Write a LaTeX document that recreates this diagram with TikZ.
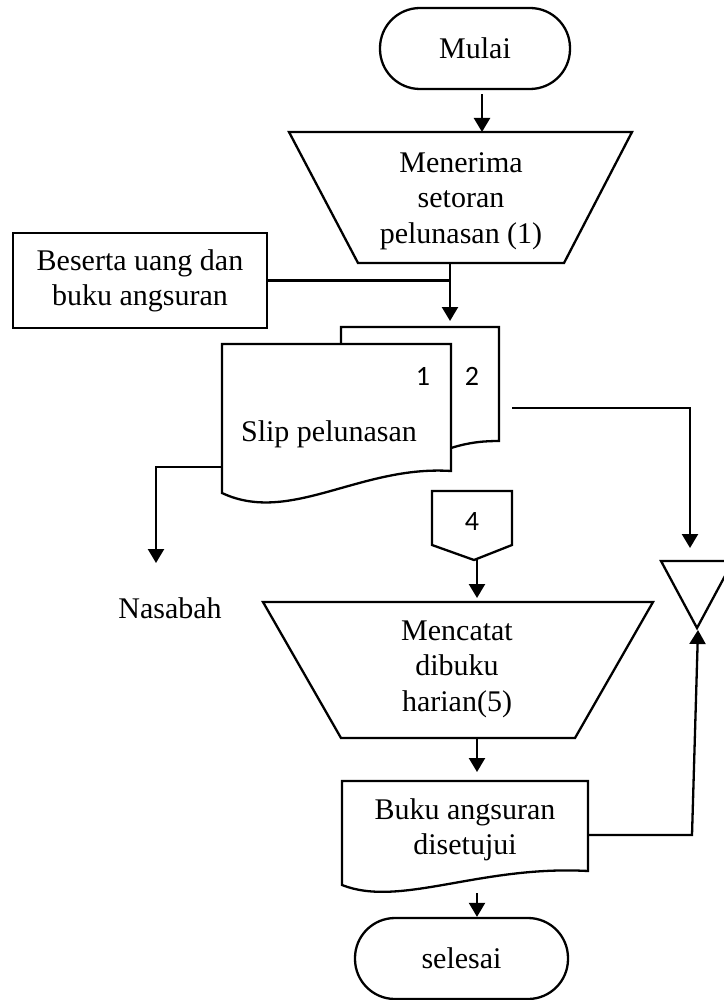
\documentclass[tikz,border=0pt]{standalone}
\usepackage{fontspec}
\setmainfont{Liberation Serif}
\newfontfamily\digitfont{Carlito}
\usetikzlibrary{arrows.meta}

\tikzset{
  ln/.style={line width=1.15pt, line join=miter},
  arr/.style={ln, -{Triangle[width=8pt,length=7pt]}},
  txt/.style={font=\fontsize{15}{17.75}\selectfont, align=center, inner sep=0pt},
  numtxt/.style={font=\digitfont\fontsize{14}{16}\selectfont, inner sep=0pt},
  term/.style={draw, ln, rounded corners=20pt, minimum width=95pt,
               minimum height=40.5pt, txt},
  inbox/.style={draw, ln, minimum width=127pt, minimum height=47.5pt, txt,
                font=\fontsize{15}{17.5}\selectfont},
}

\begin{document}
% units: 1 = 0.5pt, y grows downwards
\begin{tikzpicture}[x=0.5pt, y=-0.5pt]
\useasboundingbox (0,0) rectangle (723,1000);

% ---- start ----
\node[term] (mulai) at (475,48.5) {Mulai};

% ---- manual operation: receiving the payment ----
\draw[ln] (289,132) -- (632,132) -- (564,263) -- (358,263) -- cycle;
\node[txt] (terima) at (461,201) {Menerima\\setoran\\pelunasan (1)};
\coordinate (terimaIn) at (482,132);
\coordinate (terimaOut) at (450,263);

% ---- input note ----
\node[inbox] (beserta) at (140,280.5) {Beserta uang dan\\buku angsuran};

% ---- slip, two copies ----
\draw[ln] (341,344) -- (341,327) -- (499,327) -- (499,441)
          .. controls (485,441) and (470,442) .. (451,448);
\draw[ln, fill=white] (222,344) -- (451,344) -- (451,471)
          .. controls (360,465) and (290,525) .. (222,493) -- cycle;
\node[numtxt] (copy1) at (423,376) {1};
\node[numtxt] (copy2) at (472,376) {2};
\node[txt] (slip) at (329,434) {Slip pelunasan};
\coordinate (slipIn) at (450,321);
\coordinate (slipOut1) at (222,467);
\coordinate (slipOut2) at (512,408);

% ---- customer ----
\node[txt] (nasabah) at (170,608) {Nasabah};
\coordinate (nasabahIn) at (156,563);

% ---- off-page connector ----
\draw[ln] (432,491) -- (512,491) -- (512,545) -- (474,560) -- (432,545) -- cycle;
\node[numtxt] (conn4) at (472,522) {4};
\coordinate (connOut) at (477,560);

% ---- offline file ----
\draw[ln] (661,561) -- (733,561) -- (697,628) -- cycle;
\coordinate (fileTop) at (690,548);
\coordinate (fileApex) at (698,630);

% ---- manual operation: daily book ----
\draw[ln] (263,602) -- (653,602) -- (575,738) -- (341,738) -- cycle;
\node[txt] (catat) at (457,669) {Mencatat\\dibuku\\harian(5)};
\coordinate (catatIn) at (477,598);
\coordinate (catatOut) at (477,738);

% ---- approved installment book ----
\draw[ln] (342,781) -- (588,781) -- (588,871)
          .. controls (480,865) and (400,908) .. (342,885) -- cycle;
\node[txt] (buku) at (465,830) {Buku angsuran\\disetujui};
\coordinate (bukuIn) at (477,772);
\coordinate (bukuRight) at (588,835);
\coordinate (bukuOut) at (477,893);

% ---- end ----
\node[term, minimum width=106.5pt] (selesai) at (461.5,958.5) {selesai};

% ---- connectors ----
\draw[arr] (mulai.south -| terimaIn) ++(0,4) -- (terimaIn);
\draw[ln] (beserta.east) -- (beserta.east -| terimaOut);
\draw[arr] (terimaOut) -- (slipIn);
\draw[arr] (slipOut1) -| (nasabahIn);
\draw[arr] (slipOut2) -| (fileTop);
\draw[arr] (connOut) -- (catatIn);
\draw[arr] (catatOut) -- (bukuIn);
\draw[arr] (bukuRight) -- (692,835) -- (fileApex);
\draw[arr] (bukuOut) -- (selesai.north -| bukuOut);
\end{tikzpicture}
\end{document}
